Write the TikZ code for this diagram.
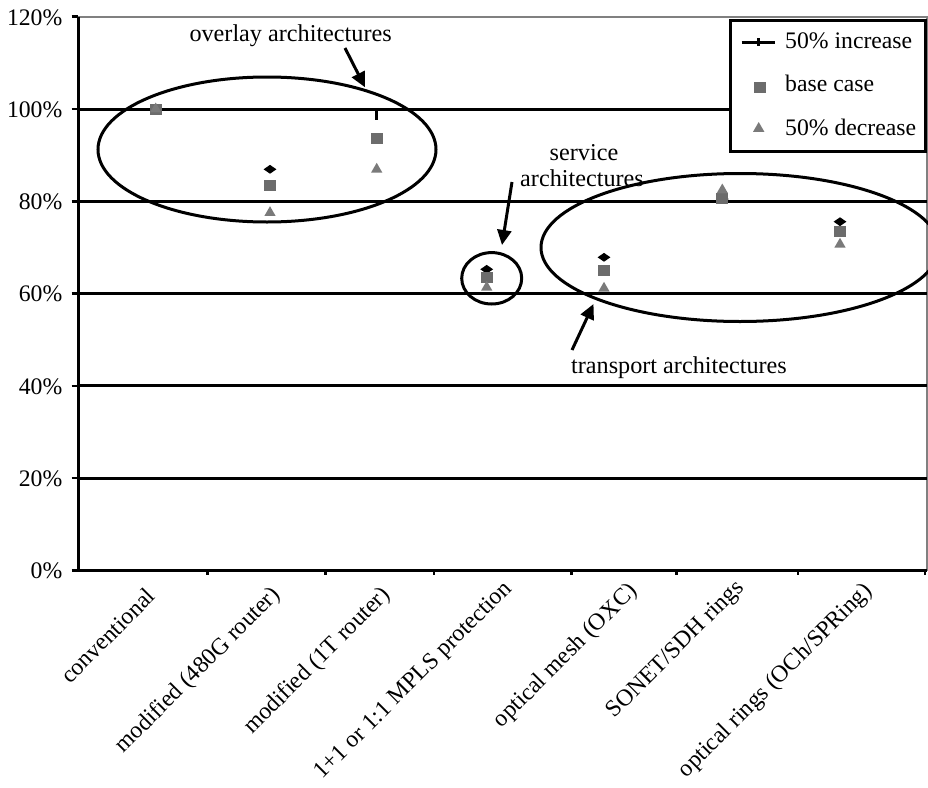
\documentclass[tikz,border=0pt]{standalone}
\usepackage{fontspec}
\setmainfont{Liberation Serif}
\usetikzlibrary{arrows.meta,shapes.geometric}
\definecolor{sqgray}{RGB}{108,108,108}
\definecolor{trigray}{RGB}{122,122,122}
\definecolor{framegray}{RGB}{128,128,128}
\begin{document}
\begin{tikzpicture}[x=1pt,y=-1pt,
  txt/.style={font=\fontsize{23.7}{26}\selectfont, inner sep=0pt},
  anntxt/.style={font=\fontsize{24.2}{26}\selectfont, inner sep=0pt},
  gridline/.style={line width=3pt,black},
  framel/.style={line width=2pt,framegray},
  annarrow/.style={line width=3pt,-{Triangle[length=15pt,width=14pt]}},
  ring/.style={line width=3pt},
  sqm/.style={rectangle,fill=sqgray,minimum width=12pt,minimum height=11pt,inner sep=0pt},
  trim/.style={regular polygon,regular polygon sides=3,fill=trigray,minimum size=13pt,inner sep=0pt},
  dim/.style={diamond,fill=black,minimum width=13pt,minimum height=9pt,inner sep=0pt},
  barm/.style={rectangle,fill=black,minimum width=3pt,minimum height=9pt,inner sep=0pt}
]
\useasboundingbox (0,0) rectangle (928,787);
% frame
\draw[framel] (78,16.7) -- (926.5,16.7) -- (926.5,570.5);
% gridlines
\foreach \yy in {109,201.3,293.6,385.9,478.2}{
  \draw[gridline] (78,\yy) -- (926.5,\yy);
}
% axes
\draw[gridline] (78,16.7) -- (78,572);
\draw[gridline] (76.5,570.5) -- (926.5,570.5);
\foreach \yy in {16.7,109,201.3,293.6,385.9,478.2,570.5}{
  \draw[line width=2.5pt] (71.5,\yy) -- (78,\yy);
}
\foreach \xx in {207.7,325.7,434,571.7,676.7,798,925}{
  \draw[line width=2.5pt] (\xx,570.5) -- (\xx,575);
}
% y labels
\node[txt,anchor=base east] (y120) at (62.5,25) {120\%};
\node[txt,anchor=base east] (y100) at (62.5,117.3) {100\%};
\node[txt,anchor=base east] (y80) at (62.5,209.6) {80\%};
\node[txt,anchor=base east] (y60) at (62.5,301.9) {60\%};
\node[txt,anchor=base east] (y40) at (62.5,394.2) {40\%};
\node[txt,anchor=base east] (y20) at (62.5,486.5) {20\%};
\node[txt,anchor=base east] (y0) at (62.5,578.8) {0\%};
% category labels
\node[txt,rotate=45,anchor=east] (c1) at (151,592) {conventional};
\node[txt,rotate=45,anchor=east] (c2) at (277,592) {modified (480G router)};
\node[txt,rotate=45,anchor=east] (c3) at (387,592) {modified (1T router)};
\node[txt,rotate=45,anchor=east] (c4) at (509,586) {1+1 or 1:1 MPLS protection};
\node[txt,rotate=45,anchor=east] (c5) at (634,588) {optical mesh (OXC)};
\node[txt,rotate=45,anchor=east] (c6) at (741,585) {SONET/SDH rings};
\node[txt,rotate=45,anchor=east] (c7) at (869,588) {optical rings (OCh/SPRing)};
% data markers
\node[dim] (d1) at (155.7,109) {};
\node[sqm] (s1) at (155.7,109) {};
\node[trim] (t1) at (155.7,109) {};
\node[dim] (d2) at (270,169.3) {};
\node[sqm] (s2) at (270,185.3) {};
\node[trim] (t2) at (270,212.7) {};
\node[barm] (d3) at (376.7,115.7) {};
\node[sqm] (s3) at (376.7,138.3) {};
\node[trim] (t3) at (376.7,169.3) {};
\node[dim] (d4) at (486.7,269.3) {};
\node[sqm] (s4) at (486.7,277.7) {};
\node[trim] (t4) at (486.7,287.3) {};
\node[dim] (d5) at (604,257.3) {};
\node[sqm] (s5) at (604,270) {};
\node[trim] (t5) at (604,288.3) {};
\node[dim] (d6) at (722.3,199) {};
\node[sqm] (s6) at (722.3,198.3) {};
\node[trim] (t6) at (722.3,190) {};
\node[dim] (d7) at (840,221.7) {};
\node[sqm] (s7) at (840,231) {};
\node[trim] (t7) at (840,244.3) {};
% ellipses
\draw[ring] (267,149.5) ellipse [x radius=169, y radius=72.5];
\draw[ring] (491.7,278.3) ellipse [x radius=30, y radius=25.7];
\begin{scope}
\clip (0,0) rectangle (928,787);
\draw[ring] (740,247.5) ellipse [x radius=199, y radius=74];
\end{scope}
% annotations
\node[anntxt,anchor=base west] (ov) at (189.3,41.7) {overlay architectures};
\node[anntxt,anchor=base] (sv1) at (584,160) {service};
\node[anntxt,anchor=base] (sv2) at (582,186) {architectures};
\node[anntxt,anchor=base] (tr) at (679,373) {transport architectures};
\coordinate (ovs) at (345,48);
\coordinate (ovt) at (365,87.3);
\coordinate (svs) at (512,182);
\coordinate (svt) at (502,245);
\coordinate (trs) at (572,350);
\coordinate (trt) at (593.5,304);
\draw[annarrow] (ovs) -- (ovt);
\draw[annarrow] (svs) -- (svt);
\draw[annarrow] (trs) -- (trt);
% legend
\node[draw=black,line width=3pt,fill=white,minimum width=195pt,minimum height=131pt,inner sep=0pt,anchor=north west] (leg) at (729,19) {};
\coordinate (lga) at (741.7,42.3);
\coordinate (lgb) at (775,42.3);
\draw[line width=2.5pt] (lga) -- (lgb);
\node[barm,minimum height=8pt] (lgbar) at (758.3,42.3) {};
\node[sqm] (lgsq) at (760,87) {};
\node[trim] (lgtr) at (758.7,128.5) {};
\node[txt,anchor=base west] (l1) at (785,48.3) {50\% increase};
\node[txt,anchor=base west] (l2) at (785,91.7) {base case};
\node[txt,anchor=base west] (l3) at (785,135) {50\% decrease};
\end{tikzpicture}
\end{document}
